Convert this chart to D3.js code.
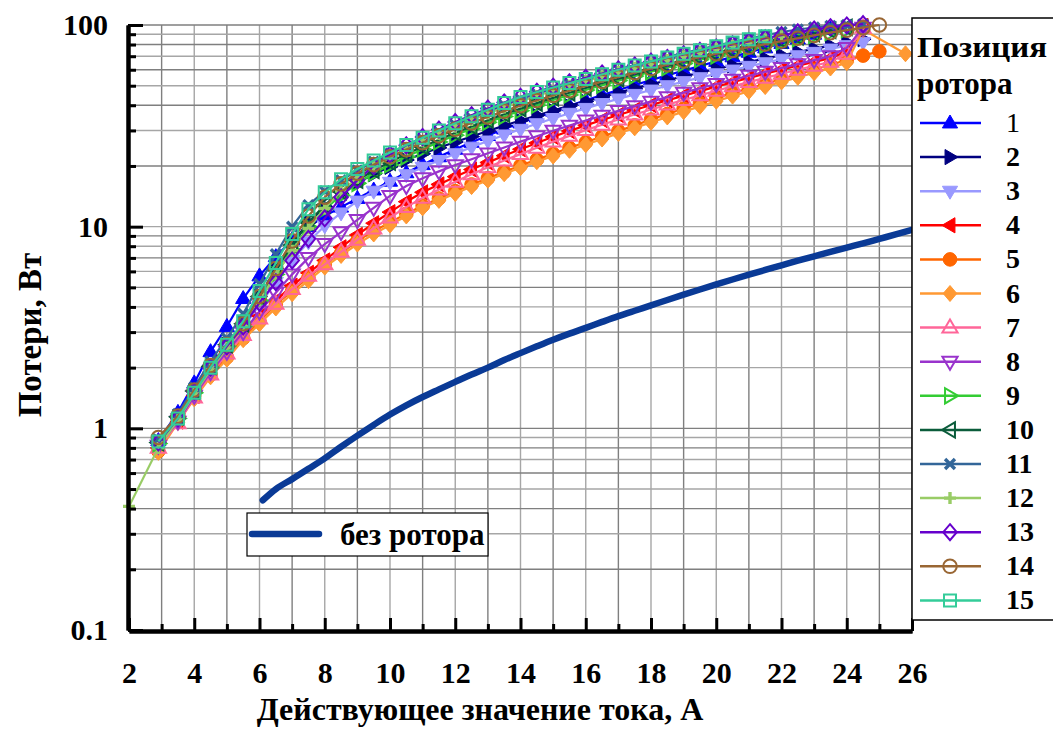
<!DOCTYPE html>
<html><head><meta charset="utf-8">
<script src="https://cdn.jsdelivr.net/npm/d3@7"></script>
<style>
body{margin:0;background:#fff}
svg{display:block}
text{font-family:"Times New Roman","Liberation Serif","Tinos","DejaVu Serif",serif;font-weight:bold}
</style>
</head><body>
<svg id="chart" width="1053" height="729"></svg>
<script>
// ---------- data ----------
const current = [2,2.9,3.5,4,4.5,5,5.5,6,6.5,7,7.5,8,8.5,9,9.5,10,10.5,11,11.5,12,12.5,13,13.5,14,14.5,15,15.5,16,16.5,17,17.5,18,18.5,19,19.5,20,20.5,21,21.5,22,22.5,23,23.5,24,24.5,25,25.8];

const pos1  = [null,0.87,1.2,1.68,2.4,3.2,4.4,5.7,7.1,8.6,10.0,11.3,12.5,13.8,15.2,16.8,18.5,20.3,22.2,24.2,26.2,28.3,30.5,32.7,35,37.4,39.8,42.3,44.9,47.6,50.4,53.3,56.3,59.4,62.6,66,69.5,73.2,77,81,85.3,90,95.5,null,null,null,null];
const pos2  = [null,0.85,1.13,1.52,2.0,2.6,3.3,4.5,6.2,8.3,10.5,12.6,14.6,16.5,18.2,19.8,21.4,23,24.6,26.3,28,29.8,31.7,33.6,35.6,37.6,39.7,41.8,44,46.2,48.5,50.8,53.2,55.6,58,60.5,63,65.6,68.2,70.8,73.5,76.2,79,82,85,null,null];
const pos3  = [null,0.84,1.12,1.5,1.97,2.5,3.15,4.1,5.3,6.8,8.4,10.1,11.7,13.4,15,16.6,18.1,19.7,21.3,23,24.8,26.6,28.5,30.4,32.4,34.4,36.5,38.6,40.8,43,45.3,47.6,50,52.4,54.8,57.3,59.8,62.4,65,67.7,70.4,73.2,76,79,82,null,null];
const pos4  = [null,0.8,1.08,1.45,1.9,2.4,3.0,3.6,4.3,5.1,5.9,6.8,7.9,9.1,10.4,11.8,13.3,14.8,16.2,17.7,19.2,20.8,22.5,24.2,26,27.9,29.8,31.8,33.8,35.8,37.9,40.1,42.3,44.6,47,49.5,52,54.6,57.3,60,62.8,65.6,68.5,74,99,null,null];
const pos5  = [null,0.77,1.1,1.45,1.85,2.25,2.8,3.4,4.1,4.8,5.6,6.5,7.4,8.5,9.5,10.5,11.6,12.7,13.8,15.0,16.2,17.4,18.7,20.1,21.5,23,24.6,26.2,28,29.8,31.8,34,36.2,38.5,41,43.5,46,48.5,51,54,57,60,63.5,67,70.5,74,null];
const pos6  = [null,0.76,1.07,1.4,1.8,2.2,2.75,3.3,3.95,4.65,5.4,6.3,7.2,8.2,9.2,10.2,11.3,12.4,13.5,14.6,15.8,17,18.3,19.6,21,22.4,23.9,25.5,27.2,29,30.9,32.9,35,37.2,39.5,41.9,44.4,46.9,49.5,52.2,55,58,61.2,65,95,null,72];
const pos7  = [null,0.8,1.06,1.42,1.85,2.35,2.9,3.5,4.15,4.9,5.7,6.5,7.5,8.6,9.8,11.1,12.5,13.9,15.3,16.7,18.2,19.7,21.3,22.9,24.6,26.4,28.2,30.1,32,34,36,38.1,40.3,42.5,44.8,47.2,49.6,52.1,54.7,57.3,60,62.8,65.7,72,97,null,null];
const pos8  = [null,0.82,1.08,1.45,1.9,2.4,3.0,3.8,4.7,5.8,7.0,8.2,9.4,10.8,12.4,14.2,15.9,17.4,18.8,20.2,21.6,23.1,24.7,26.4,28.1,29.9,31.7,33.6,35.5,37.5,39.6,41.7,43.9,46.2,48.6,51,53.5,56,58.6,61.2,64,67,70,77,97,null,null];
const pos9  = [null,0.84,1.12,1.5,2.0,2.55,3.2,4.3,5.8,7.7,10,12.2,14.3,16.4,18.4,20.3,22.2,24.2,26.3,28.4,30.6,32.9,35.2,37.6,40,42.5,45,47.6,50.3,53,55.8,58.6,61.5,64.4,67.3,70.3,73.3,76.3,79.4,82.5,85.6,88.7,91.8,95,null,null,null];
const pos10 = [null,0.85,1.14,1.53,2.03,2.6,3.3,4.5,6.1,8.1,10.5,12.8,14.9,17,19,20.9,22.9,24.9,27,29.2,31.4,33.7,36.1,38.5,41,43.5,46.1,48.7,51.4,54.1,56.9,59.8,62.7,65.6,68.6,71.6,74.7,77.8,81,84.2,87.4,90.7,94,97.3,null,null,null];
const pos11 = [null,0.88,1.18,1.6,2.15,2.8,3.7,5.2,7.3,10,12.8,15,17,19,21,23,25,27.2,29.5,32,34.6,37.3,40,42.8,45.6,48.4,51.3,54.2,57.2,60.2,63.3,66.4,69.5,72.6,75.8,79,82.3,85.6,89,92.3,95,97.2,99,100,101,null,null];
const pos12 = [0.41,0.8,1.1,1.48,1.95,2.5,3.2,4.3,5.8,7.6,9.8,12.3,15,17.5,19.8,22,24.2,26.5,28.8,31.3,33.8,36.4,39,41.8,44.5,47.2,50,52.8,55.6,58.4,61.3,64.2,67.1,70,73,76,79,82,85,88,null,null,null,null,null,null,null];
const pos13 = [null,0.85,1.12,1.52,2.0,2.55,3.2,4.2,5.3,6.8,8.7,11,14,17,20,22.8,25.3,27.8,30.3,33,35.7,38.5,41.3,44,46.7,49.4,52,54.7,57.5,60.3,63,65.8,68.6,71.5,74.4,77.3,80.2,83,86,89,92,95,97.5,99.5,101,null,null];
const pos14 = [null,0.9,1.15,1.55,2.05,2.6,3.3,4.5,6.2,8.5,11.3,14,16.3,18.4,20.3,22.2,24.1,26.1,28.2,30.4,32.7,35,37.4,39.8,42.2,44.7,47.2,49.8,52.5,55.2,58,60.8,63.6,66.4,69.2,72,74.8,77.6,80.4,83.2,86,88.8,91.6,94.3,97,100,null];
const pos15 = [null,0.86,1.12,1.5,2.0,2.6,3.4,4.8,6.6,9.2,12.2,14.8,17.2,19.3,21.3,23.3,25.4,27.6,30,32.6,35.3,38,41,44,46.5,49,51.5,54,57,60,63,66,69,72,75,78.5,82,85,88,null,null,null,null,null,null,null,null];

const noRotorCurrent = [6.1,6.5,7,7.5,8,8.5,9,9.5,10,10.5,11,11.5,12,12.5,13,13.5,14,14.5,15,15.5,16,16.5,17,17.5,18,18.5,19,19.5,20,20.5,21,21.5,22,22.5,23,23.5,24,24.5,25,25.5,26];
const noRotorLoss    = [0.44,0.5,0.56,0.63,0.71,0.81,0.92,1.04,1.17,1.3,1.43,1.56,1.7,1.85,2.0,2.18,2.36,2.55,2.75,2.95,3.15,3.37,3.6,3.83,4.07,4.33,4.6,4.88,5.17,5.47,5.78,6.1,6.43,6.78,7.13,7.5,7.88,8.27,8.7,9.15,9.65];

const seriesNames   = ["1","2","3","4","5","6","7","8","9","10","11","12","13","14","15"];
const seriesValues  = [pos1,pos2,pos3,pos4,pos5,pos6,pos7,pos8,pos9,pos10,pos11,pos12,pos13,pos14,pos15];
const seriesColors  = ["#0000ff","#000080","#9999ff","#ff0000","#ff6600","#ff9933","#ff6699","#9933cc","#33cc33","#0b5c3b","#336699","#99cc66","#6600cc","#996633","#33cc99"];
const seriesMarkers = ["triUp","triRight","triDown","triLeft","circle","diamond","triUpOpen","triDownOpen","triRightOpen","triLeftOpen","cross","plus","diamondOpen","circleOpen","squareOpen"];

const xTickMajor = [2,4,6,8,10,12,14,16,18,20,22,24,26];
const xTickMinor = [3,5,7,9,11,13,15,17,19,21,23,25];
const yTickMajor = [0.1,1,10,100];
const yTickLabels = ["0.1","1","10","100"];

const xTitle = "Действующее значение тока, А";
const yTitle = "Потери, Вт";
const legendTitle = ["Позиция","ротора"];
const noRotorName = "без ротора";
const noRotorColor = "#0a3a96";

// ---------- drawing ----------
const FONT = '"Times New Roman","Liberation Serif","Tinos","DejaVu Serif",serif';
const svg = d3.select("#chart");
const L = 129, R = 912, T = 25, B = 630;
const x = d3.scaleLinear().domain([2,26]).range([L,R]);
const y = d3.scaleLog().domain([0.1,100]).range([B,T]);

// grid
const grid = svg.append("g");
grid.selectAll("line.v").data(d3.range(3,27)).join("line")
  .attr("x1",d=>x(d)).attr("x2",d=>x(d)).attr("y1",T).attr("y2",B)
  .attr("stroke",(d,i)=>i%2?"#a6a6a6":"#7f7f7f").attr("stroke-width",1.4);
grid.selectAll("line.h").data(y.ticks().filter(v=>v>0.1)).join("line")
  .attr("x1",L).attr("x2",R).attr("y1",d=>y(d)).attr("y2",d=>y(d))
  .attr("stroke",(d,i)=>i%2?"#a6a6a6":"#7f7f7f").attr("stroke-width",1.4);

// marker paths
function markerPath(type, r){
  const a=r, b=r*0.62, c=r*0.95;
  switch(type.replace("Open","")){
    case "triUp": return `M0,${-a}L${c},${b}L${-c},${b}Z`;
    case "triDown": return `M0,${a}L${c},${-b}L${-c},${-b}Z`;
    case "triRight": return `M${a},0L${-b},${c}L${-b},${-c}Z`;
    case "triLeft": return `M${-a},0L${b},${c}L${b},${-c}Z`;
    case "circle": return d3.symbol(d3.symbolCircle, Math.PI*r*r*0.72)();
    case "diamond": return `M0,${-r}L${r*0.85},0L0,${r}L${-r*0.85},0Z`;
    case "square": { const s=r*0.75; return `M${-s},${-s}H${s}V${s}H${-s}Z`; }
    case "cross": { const s=r*0.62; return `M${-s},${-s}L${s},${s}M${s},${-s}L${-s},${s}`; }
    case "plus": { const s=r*0.75; return `M${-s},0H${s}M0,${-s}V${s}`; }
  }
}
function styleMarker(sel, type, color){
  const open = type.endsWith("Open");
  const stroked = type==="cross"||type==="plus";
  sel.attr("d", markerPath(type, 8))
    .attr("fill", open||stroked ? "none" : color)
    .attr("stroke", color)
    .attr("stroke-width", stroked?3.4:(open?2:1));
}

const line = d3.line().x(d=>x(d[0])).y(d=>y(d[1]));
const plot = svg.append("g");

// no-rotor curve
plot.append("path")
  .datum(noRotorCurrent.map((c,i)=>[c,noRotorLoss[i]]))
  .attr("d",line.curve(d3.curveMonotoneX)).attr("fill","none").attr("stroke",noRotorColor)
  .attr("stroke-width",6.5).attr("stroke-linecap","round").attr("stroke-linejoin","round");
line.curve(d3.curveLinear);

seriesValues.forEach((vals,si)=>{
  const pts = current.map((c,i)=>[c,vals[i]]).filter(p=>p[1]!=null);
  const g = plot.append("g");
  g.append("path").datum(pts).attr("d",line).attr("fill","none")
    .attr("stroke",seriesColors[si]).attr("stroke-width",2.2);
  g.selectAll("path.m").data(pts).join("path").attr("class","m")
    .attr("transform",d=>`translate(${x(d[0])},${y(d[1])})`)
    .call(styleMarker, seriesMarkers[si], seriesColors[si]);
});

// axes
const yMinor = d3.axisLeft(y).tickValues(y.ticks().filter(v=>!yTickMajor.includes(v))).tickSize(-8).tickSizeOuter(0).tickFormat("");
const yMajor = d3.axisLeft(y).tickValues(yTickMajor).tickSize(-15).tickSizeOuter(0).tickPadding(20)
  .tickFormat((d,i)=>yTickLabels[i]);
const xMinor = d3.axisBottom(x).tickValues(xTickMinor).tickSize(-7).tickSizeOuter(0).tickFormat("");
const xMajor = d3.axisBottom(x).tickValues(xTickMajor).tickSize(-13).tickSizeOuter(0).tickPadding(31);

function styleAxis(g){
  g.attr("font-family",FONT).attr("font-size",30);
  g.select(".domain").attr("stroke","#000").attr("stroke-width",4);
  g.selectAll(".tick line").attr("stroke","#000").attr("stroke-width",3);
  g.selectAll(".tick text").attr("fill","#000").attr("font-size",30).attr("font-weight","bold");
}
svg.append("g").attr("transform",`translate(${L-1},0)`).call(yMinor).call(styleAxis);
svg.append("g").attr("transform",`translate(${L-1},0)`).call(yMajor).call(styleAxis);
svg.append("g").attr("transform",`translate(0,${B+1})`).call(xMinor).call(styleAxis);
svg.append("g").attr("transform",`translate(0,${B+1})`).call(xMajor).call(styleAxis);

// titles
svg.append("text").attr("x",480).attr("y",720).attr("text-anchor","middle")
  .attr("font-size",32).text(xTitle);
svg.append("text").attr("transform","translate(41,335) rotate(-90)").attr("text-anchor","middle")
  .attr("font-size",33).text(yTitle);

// main legend
const lg = svg.append("g");
lg.append("rect").attr("x",912).attr("y",18).attr("width",160).attr("height",602)
  .attr("fill","#fff").attr("stroke","#000").attr("stroke-width",1.5);
lg.append("text").attr("x",917).attr("y",57).attr("font-size",30)
  .attr("textLength",130).attr("lengthAdjust","spacingAndGlyphs").text(legendTitle[0]);
lg.append("text").attr("x",917).attr("y",94).attr("font-size",31).text(legendTitle[1]);
seriesNames.forEach((n,i)=>{
  const yy = 123 + i*34.1;
  lg.append("line").attr("x1",920).attr("x2",981).attr("y1",yy).attr("y2",yy)
    .attr("stroke",seriesColors[i]).attr("stroke-width",2.5);
  lg.append("path").attr("transform",`translate(950,${yy})`).call(styleMarker, seriesMarkers[i], seriesColors[i]);
  lg.append("text").attr("x",1006).attr("y",yy+9).attr("font-size",28)
    .style("font-weight", i===0?"normal":"bold").text(n);
});

// no-rotor legend
const lg2 = svg.append("g");
lg2.append("rect").attr("x",247).attr("y",513).attr("width",241).attr("height",43)
  .attr("fill","#fff").attr("stroke","#000").attr("stroke-width",1.2);
lg2.append("line").attr("x1",252).attr("x2",319).attr("y1",534).attr("y2",534)
  .attr("stroke",noRotorColor).attr("stroke-width",6.5).attr("stroke-linecap","round");
lg2.append("text").attr("x",340).attr("y",545).attr("font-size",31).text(noRotorName);
</script>
</body></html>
